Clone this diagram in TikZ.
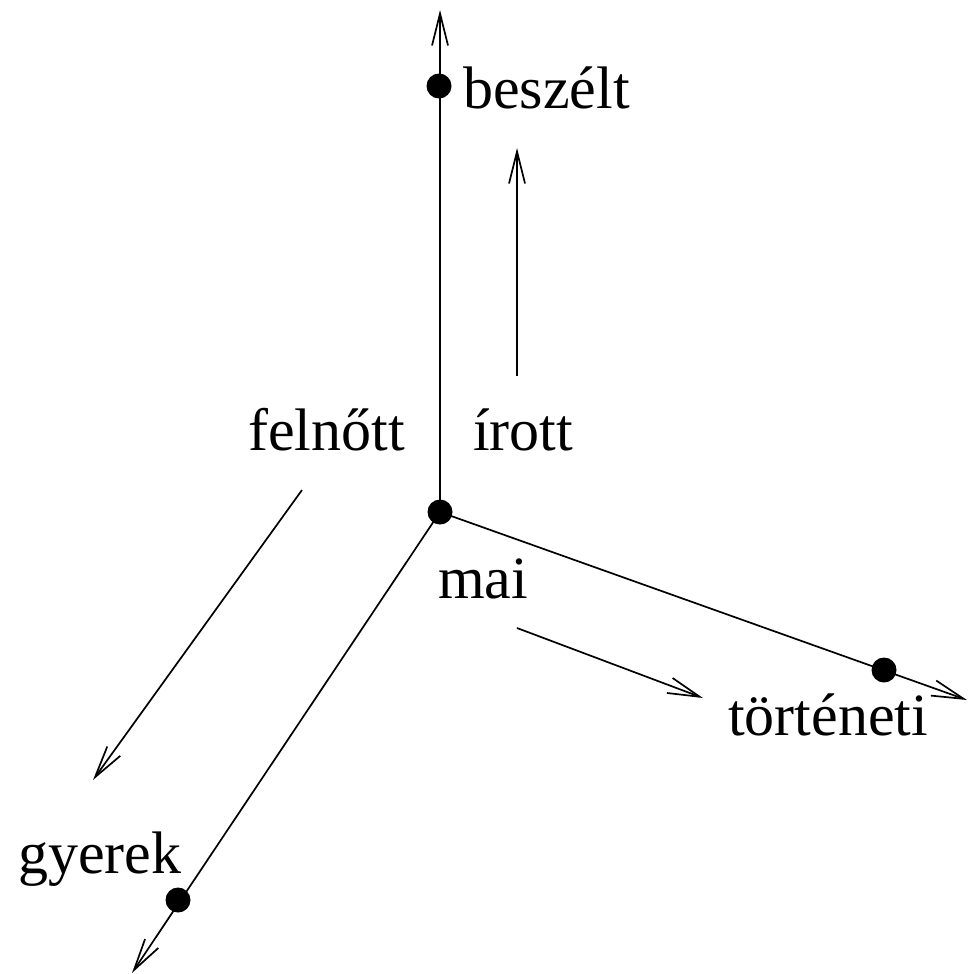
\documentclass[tikz,border=0pt]{standalone}
\usepackage{fontspec}
\setmainfont{Liberation Serif}
\usetikzlibrary{arrows.meta}
\tikzset{
  dot/.style={circle,fill=black,inner sep=0pt,minimum size=25pt},
  lbl/.style={anchor=base west,inner sep=0pt,font=\fontsize{60}{72}\selectfont},
  ax/.style={line width=1.7pt,-{Straight Barb[length=32pt,width=16pt,line width=1.7pt]}},
  ln/.style={line width=1.7pt}
}
\begin{document}
\begin{tikzpicture}[x=1pt,y=-1pt]
\useasboundingbox (0,0) rectangle (967,974);
% points
\node[dot] (o) at (440,512) {};
\node[dot] (db) at (439,86) {};
\node[dot] (dg) at (178,900) {};
\node[dot] (dt) at (884,670) {};
\coordinate (tipU) at (440,10);
\coordinate (tipG) at (132,973);
\coordinate (tipT) at (967,700);
% axes
\draw[ax] (o.center) -- (tipU);
\draw[ax] (o.center) -- (tipG);
\draw[ax] (o.center) -- (tipT);
% direction arrows
\coordinate (a1s) at (517,376); \coordinate (a1e) at (517,148);
\coordinate (a2s) at (302,490); \coordinate (a2e) at (93,780);
\coordinate (a3s) at (517,628); \coordinate (a3e) at (703,698);
\draw[ax] (a1s) -- (a1e);
\draw[ax] (a2s) -- (a2e);
\draw[ax] (a3s) -- (a3e);
% labels
\node[lbl] (beszelt) at (463,108) {beszélt};
\node[lbl] (irott) at (473,450) {írott};
\node[lbl] (felnott) at (248,450) {felnőtt};
\node[lbl] (mai) at (438,598) {mai};
\node[lbl] (tort) at (728,735) {történeti};
\node[lbl] (gyerek) at (18,873) {gyerek};
\end{tikzpicture}
\end{document}
